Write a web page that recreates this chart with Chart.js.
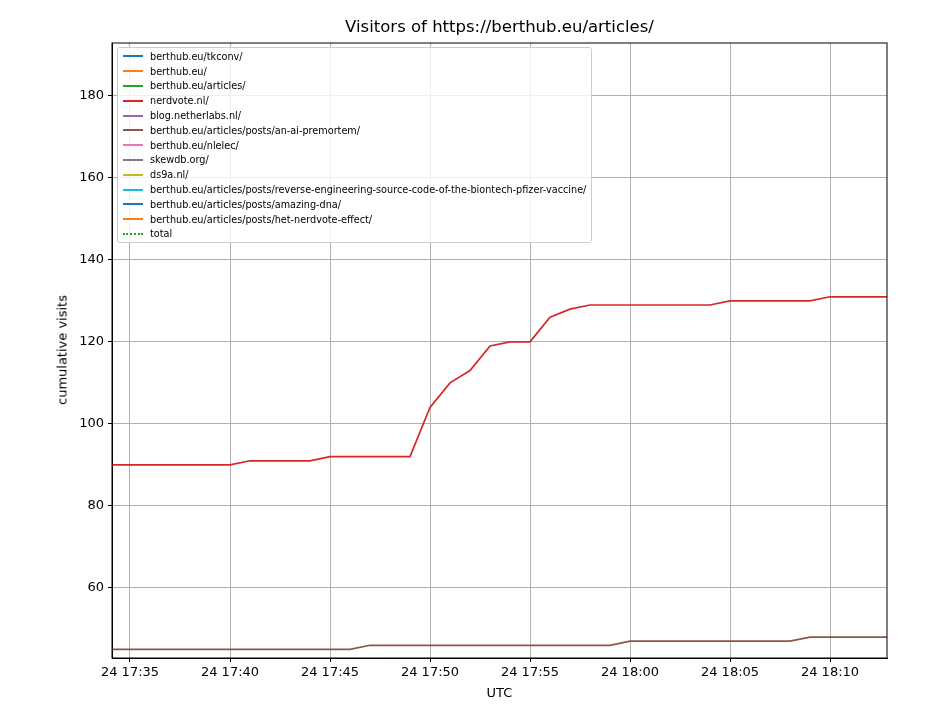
<!DOCTYPE html>
<html><head><meta charset="utf-8">
<script src="https://cdn.jsdelivr.net/npm/chart.js@4"></script>
<style>
body{margin:0;background:#fff;font-family:"DejaVu Sans",sans-serif;}
#wrap{position:relative;width:945px;height:717px;}
#title{position:absolute;top:17px;left:112px;width:775px;text-align:center;font-size:16.5px;color:#000;}
#xt{position:absolute;top:685px;left:112px;width:775px;text-align:center;font-size:13px;}
#yt{position:absolute;left:62px;top:350px;font-size:13px;transform:translate(-50%,-50%) rotate(-90deg);white-space:nowrap;}
#legend{position:absolute;left:117px;top:47px;width:475px;height:196px;border:1px solid #ccc;border-radius:3px;background:rgba(255,255,255,0.8);font-size:9.7px;box-sizing:border-box;padding-top:1px;}
.li{height:14.8px;display:flex;align-items:center;white-space:nowrap;}
.sw{width:20px;margin:0 7px 0 5px;border-top:2px solid;flex:none;}
</style></head><body>
<div id="wrap"><canvas id="c" width="945" height="717"></canvas>
<div id="title">Visitors of https://berthub.eu/articles/</div>
<div id="xt">UTC</div><div id="yt">cumulative visits</div>
<div id="legend"></div></div>
<script>
const minutes = [34,35,36,37,38,39,40,41,42,43,44,45,46,47,48,49,50,51,52,53,54,55,56,57,58,59,60,61,62,63,64,65,66,67,68,69,70,71,72,73];
const seriesNames = ["berthub.eu/tkconv/","berthub.eu/","berthub.eu/articles/","nerdvote.nl/","blog.netherlabs.nl/","berthub.eu/articles/posts/an-ai-premortem/","berthub.eu/nlelec/","skewdb.org/","ds9a.nl/","berthub.eu/articles/posts/reverse-engineering-source-code-of-the-biontech-pfizer-vaccine/","berthub.eu/articles/posts/amazing-dna/","berthub.eu/articles/posts/het-nerdvote-effect/","total"];
const seriesColors = ["#1f77b4","#ff7f0e","#2ca02c","#d62728","#9467bd","#8c564b","#e377c2","#7f7f7f","#bcbd22","#17becf","#1f77b4","#ff7f0e","#2ca02c"];
const nerdvote = [90,90,90,90,90,90,90,91,91,91,91,92,92,92,92,92,104,110,113,119,120,120,126,128,129,129,129,129,129,129,129,130,130,130,130,130,131,131,131,131];
const premortem = [45,45,45,45,45,45,45,45,45,45,45,45,45,46,46,46,46,46,46,46,46,46,46,46,46,46,47,47,47,47,47,47,47,47,47,48,48,48,48,48];
const xTicks = [35,40,45,50,55,60,65,70];
const yTicks = [60,80,100,120,140,160,180];

const datasets = seriesNames.map((n,i)=>{
  let data=[];
  if(n==="nerdvote.nl/") data=minutes.map((m,j)=>({x:m,y:nerdvote[j]}));
  if(n==="berthub.eu/articles/posts/an-ai-premortem/") data=minutes.map((m,j)=>({x:m,y:premortem[j]}));
  return {label:n,data,borderColor:seriesColors[i],borderWidth:1.7,pointRadius:0,borderDash:n==="total"?[2,3]:[],tension:0};
});
const lg=document.getElementById('legend');
seriesNames.forEach((n,i)=>{const d=document.createElement('div');d.className='li';
 d.innerHTML=`<span class="sw" style="border-top-color:${seriesColors[i]};${n==='total'?'border-top-style:dotted;':''}"></span><span>${n}</span>`;lg.appendChild(d);});
const fmt=v=>{const h=17+Math.floor(v/60),m=v%60;return `24 ${h}:${String(m).padStart(2,'0')}`;};
new Chart(document.getElementById('c'),{type:'line',data:{datasets},
options:{responsive:false,animation:false,
 layout:{padding:{top:43,right:58,left:0,bottom:0}},
 plugins:{legend:{display:false},tooltip:{enabled:false}},
 scales:{
  x:{type:'linear',min:34.1,max:72.85,
   afterFit:s=>{s.height=59;},
   afterBuildTicks:s=>{s.ticks=xTicks.map(v=>({value:v}));},
   ticks:{callback:v=>fmt(v),color:'#000',font:{size:13,family:'DejaVu Sans'},maxRotation:0,padding:3},
   grid:{color:'#b0b0b0',tickLength:4,tickColor:'#000'},border:{color:'#000'}},
  y:{min:42.9,max:192.9,
   afterFit:s=>{s.width=112;},
   afterBuildTicks:s=>{s.ticks=yTicks.map(v=>({value:v}));},
   ticks:{color:'#000',font:{size:13,family:'DejaVu Sans'},padding:4},
   grid:{color:'#b0b0b0',tickLength:4,tickColor:'#000'},border:{color:'#000'}}
 }},
 plugins:[{id:'frame',afterDraw(c){const a=c.chartArea,x=c.ctx;x.save();x.strokeStyle='#000';x.lineWidth=1;x.strokeRect(a.left,a.top,a.right-a.left,a.bottom-a.top);x.restore();}}]
});
</script></body></html>
